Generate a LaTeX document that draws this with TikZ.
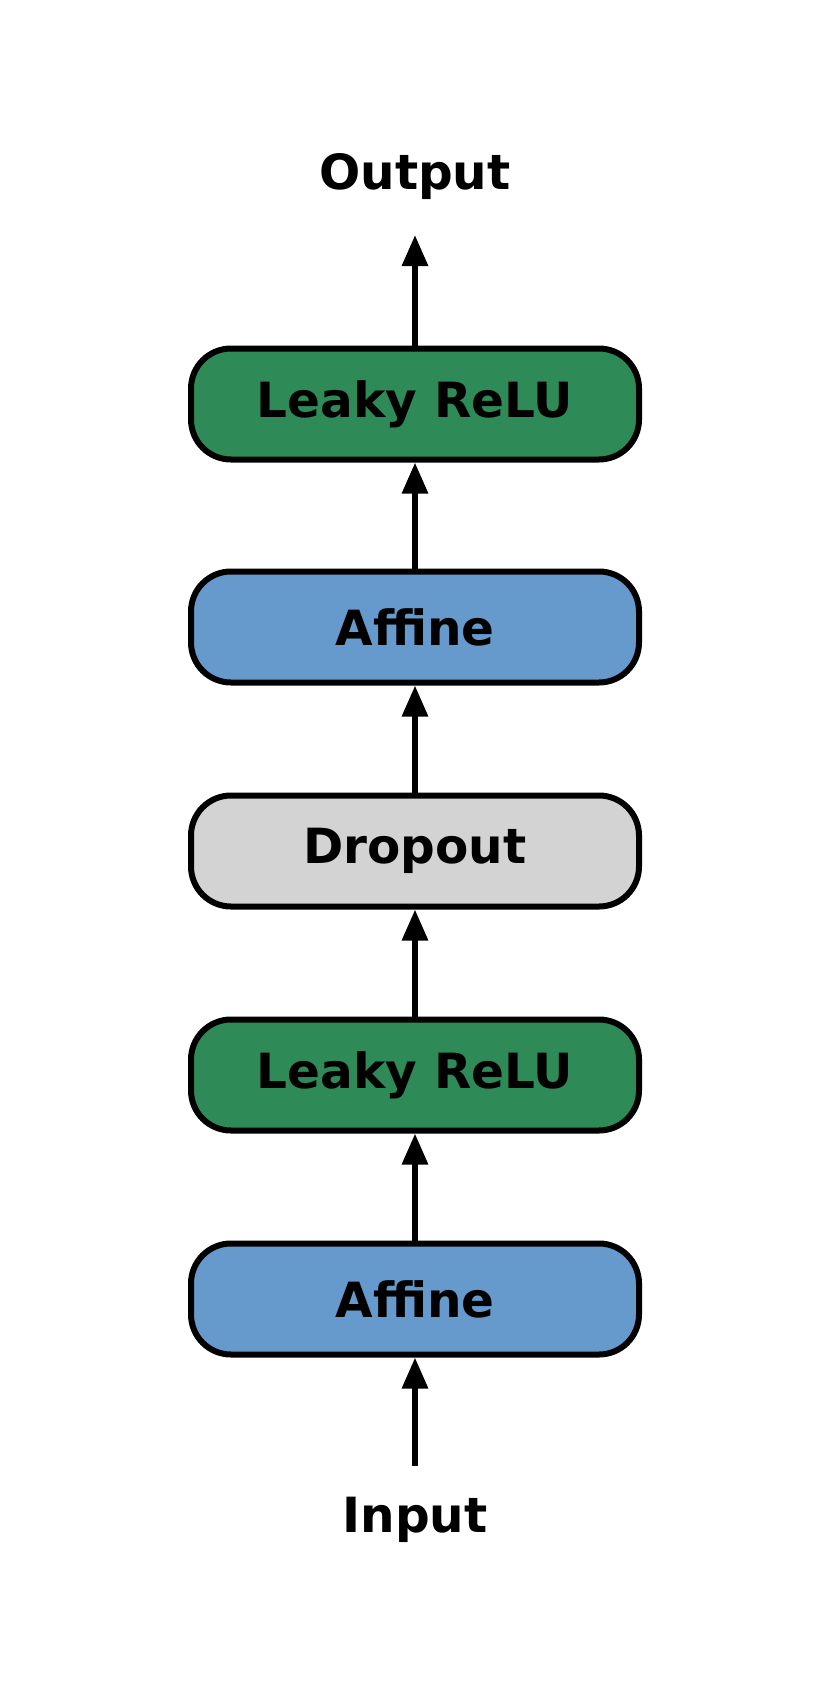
\documentclass[tikz,border=0pt]{standalone}
\usepackage{fontspec}
\setmainfont{DejaVu Sans}
\usetikzlibrary{arrows.meta,positioning}
\definecolor{affblue}{HTML}{6699CC}
\definecolor{relugreen}{HTML}{2E8B57}
\definecolor{dropgray}{HTML}{D3D3D3}

\begin{document}
\begin{tikzpicture}[x=1pt, y=1pt,
  layer/.style={rectangle, rounded corners=40pt, draw=black, line width=6pt, fill=#1,
    minimum width=448pt, minimum height=111pt, inner sep=0pt,
    font=\fontsize{48.5}{52}\selectfont\bfseries},
  lbl/.style={font=\fontsize{48.5}{52}\selectfont\bfseries, inner sep=0pt},
  arr/.style={-{Triangle[length=31pt, width=25pt]}, line width=6pt, black}
]
  \useasboundingbox (0,0) rectangle (830,-1704);

  % Layers, bottom to top
  \node[layer=affblue]    (aff1)   at (415,-1299) {Affine};
  \node[layer=relugreen]  (lrelu1) at (415,-1075) {Leaky ReLU};
  \node[layer=dropgray]   (drop)   at (415,-851)  {Dropout};
  \node[layer=affblue]    (aff2)   at (415,-627)  {Affine};
  \node[layer=relugreen]  (lrelu2) at (415,-404)  {Leaky ReLU};

  % Input / output
  \coordinate (inp) at (415,-1466);
  \coordinate (out) at (415,-235);
  \node[lbl] (inlbl)  at (415,-1520) {Input};
  \node[lbl] (outlbl) at (415,-177)  {Output};

  % Connections
  \foreach \a/\b in {inp/aff1, aff1/lrelu1, lrelu1/drop, drop/aff2, aff2/lrelu2, lrelu2/out} {
    \draw[arr] (\a) -- (\b);
  }
\end{tikzpicture}
\end{document}
